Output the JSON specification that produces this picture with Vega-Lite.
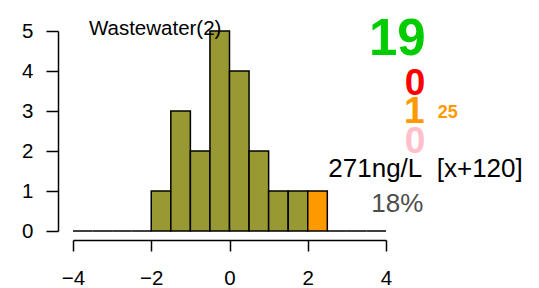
{
  "$schema": "https://vega.github.io/schema/vega-lite/v6.json",
  "autosize": "none",
  "width": 313,
  "height": 200,
  "padding": {"left": 73, "top": 31, "right": 153, "bottom": 57},
  "background": "white",
  "config": {
    "view": {"stroke": null},
    "font": "Liberation Sans",
    "text": {"font": "Liberation Sans"},
    "axis": {
      "title": null, "grid": false, "domainColor": "black", "domainWidth": 1.5,
      "tickColor": "black", "tickWidth": 1.5,
      "labelFont": "Liberation Sans", "labelFontSize": 20.5, "labelColor": "black",
      "labelFlush": false, "labelOverlap": false
    },
    "axisX": {"offset": 9, "tickSize": 11, "labelPadding": 17},
    "axisY": {"offset": 15, "tickSize": 12, "labelPadding": 13, "labelBaseline": "middle"}
  },
  "layer": [
    {
      "data": {
        "values": [
          {"bin_start": -4.0, "bin_end": -3.5, "count": 0, "status": "other"},
          {"bin_start": -3.5, "bin_end": -3.0, "count": 0, "status": "other"},
          {"bin_start": -3.0, "bin_end": -2.5, "count": 0, "status": "other"},
          {"bin_start": -2.5, "bin_end": -2.0, "count": 0, "status": "other"},
          {"bin_start": -2.0, "bin_end": -1.5, "count": 1, "status": "other"},
          {"bin_start": -1.5, "bin_end": -1.0, "count": 3, "status": "other"},
          {"bin_start": -1.0, "bin_end": -0.5, "count": 2, "status": "other"},
          {"bin_start": -0.5, "bin_end": 0.0, "count": 5, "status": "other"},
          {"bin_start": 0.0, "bin_end": 0.5, "count": 4, "status": "other"},
          {"bin_start": 0.5, "bin_end": 1.0, "count": 2, "status": "other"},
          {"bin_start": 1.0, "bin_end": 1.5, "count": 1, "status": "other"},
          {"bin_start": 1.5, "bin_end": 2.0, "count": 1, "status": "other"},
          {"bin_start": 2.0, "bin_end": 2.5, "count": 1, "status": "current"},
          {"bin_start": 2.5, "bin_end": 3.0, "count": 0, "status": "other"},
          {"bin_start": 3.0, "bin_end": 3.5, "count": 0, "status": "other"},
          {"bin_start": 3.5, "bin_end": 4.0, "count": 0, "status": "other"}
        ]
      },
      "mark": {"type": "rect", "stroke": "black", "strokeWidth": 1.5, "clip": false},
      "encoding": {
        "x": {
          "field": "bin_start", "type": "quantitative",
          "scale": {"domain": [-4, 4], "nice": false, "zero": false},
          "axis": {"values": [-4, -2, 0, 2, 4], "format": "d"}
        },
        "x2": {"field": "bin_end"},
        "y": {
          "field": "count", "type": "quantitative",
          "scale": {"domain": [0, 5], "nice": false},
          "axis": {"values": [0, 1, 2, 3, 4, 5], "format": "d"}
        },
        "y2": {"datum": 0},
        "color": {
          "field": "status", "type": "nominal",
          "scale": {"domain": ["other", "current"], "range": ["#999933", "#FF9900"]},
          "legend": null
        }
      }
    },
    {
      "data": {"values": [{"label": "Wastewater(2)"}]},
      "mark": {"type": "text", "fontSize": 20.5, "color": "black", "align": "center", "baseline": "alphabetic"},
      "encoding": {"text": {"field": "label"},
        "x": {"datum": -1.9, "axis": {"values": [-4, -2, 0, 2, 4], "format": "d"}},
        "y": {"datum": 4.9, "axis": {"values": [0, 1, 2, 3, 4, 5], "format": "d"}}}
    },
    {
      "data": {"values": [{"label": "19"}]},
      "mark": {"type": "text", "fontSize": 51, "fontWeight": "bold", "color": "#00CC00", "align": "center", "baseline": "alphabetic"},
      "encoding": {"text": {"field": "label"},
        "x": {"datum": 4.29, "axis": {"values": [-4, -2, 0, 2, 4], "format": "d"}},
        "y": {"datum": 4.4, "axis": {"values": [0, 1, 2, 3, 4, 5], "format": "d"}}}
    },
    {
      "data": {"values": [{"label": "0"}]},
      "mark": {"type": "text", "fontSize": 37, "fontWeight": "bold", "color": "#FF0000", "align": "center", "baseline": "alphabetic"},
      "encoding": {"text": {"field": "label"},
        "x": {"datum": 4.74, "axis": {"values": [-4, -2, 0, 2, 4], "format": "d"}},
        "y": {"datum": 3.4, "axis": {"values": [0, 1, 2, 3, 4, 5], "format": "d"}}}
    },
    {
      "data": {"values": [{"label": "1"}]},
      "mark": {"type": "text", "fontSize": 37, "fontWeight": "bold", "color": "#FF9900", "align": "center", "baseline": "alphabetic"},
      "encoding": {"text": {"field": "label"},
        "x": {"datum": 4.72, "axis": {"values": [-4, -2, 0, 2, 4], "format": "d"}},
        "y": {"datum": 2.7, "axis": {"values": [0, 1, 2, 3, 4, 5], "format": "d"}}}
    },
    {
      "data": {"values": [{"label": "25"}]},
      "mark": {"type": "text", "fontSize": 18, "fontWeight": "bold", "color": "#FF9900", "align": "center", "baseline": "alphabetic"},
      "encoding": {"text": {"field": "label"},
        "x": {"datum": 5.58, "axis": {"values": [-4, -2, 0, 2, 4], "format": "d"}},
        "y": {"datum": 2.825, "axis": {"values": [0, 1, 2, 3, 4, 5], "format": "d"}}}
    },
    {
      "data": {"values": [{"label": "0"}]},
      "mark": {"type": "text", "fontSize": 37, "fontWeight": "bold", "color": "#FFC0CB", "align": "center", "baseline": "alphabetic"},
      "encoding": {"text": {"field": "label"},
        "x": {"datum": 4.74, "axis": {"values": [-4, -2, 0, 2, 4], "format": "d"}},
        "y": {"datum": 1.95, "axis": {"values": [0, 1, 2, 3, 4, 5], "format": "d"}}}
    },
    {
      "data": {"values": [{"label": "271ng/L\u00a0 [x+120]"}]},
      "mark": {"type": "text", "fontSize": 26, "color": "black", "align": "center", "baseline": "alphabetic"},
      "encoding": {"text": {"field": "label"},
        "x": {"datum": 5.01, "axis": {"values": [-4, -2, 0, 2, 4], "format": "d"}},
        "y": {"datum": 1.35, "axis": {"values": [0, 1, 2, 3, 4, 5], "format": "d"}}}
    },
    {
      "data": {"values": [{"label": "18%"}]},
      "mark": {"type": "text", "fontSize": 26, "color": "#4D4D4D", "align": "center", "baseline": "alphabetic"},
      "encoding": {"text": {"field": "label"},
        "x": {"datum": 4.29, "axis": {"values": [-4, -2, 0, 2, 4], "format": "d"}},
        "y": {"datum": 0.48, "axis": {"values": [0, 1, 2, 3, 4, 5], "format": "d"}}}
    }
  ]
}
